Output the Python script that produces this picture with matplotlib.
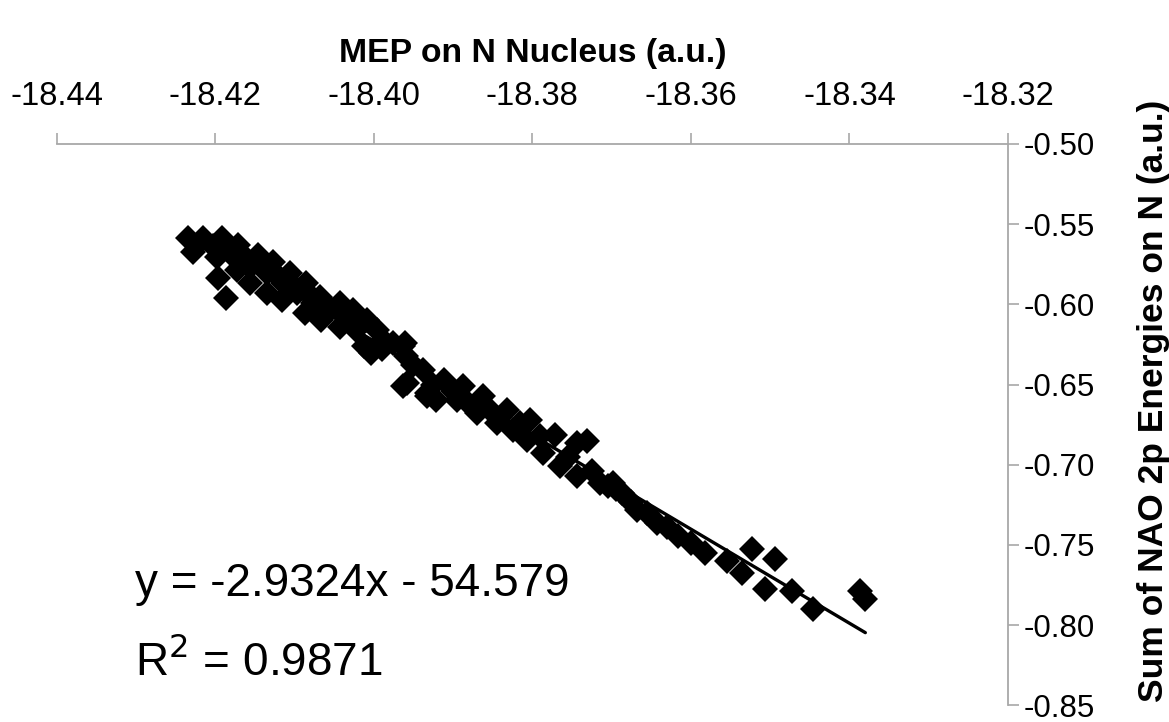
import numpy as np
import matplotlib
matplotlib.use("Agg")
import matplotlib.pyplot as plt

plt.rcParams['font.family'] = ['Liberation Sans', 'DejaVu Sans']

# MEP on N nucleus (a.u.) and sum of NAO 2p energies on N (a.u.)
mep = [
    -18.4234, -18.4215, -18.4192, -18.4171, -18.4146, -18.4127, -18.4106, -18.4085,
    -18.4068, -18.4043, -18.4026, -18.4009, -18.3996,
    -18.4228, -18.4198, -18.4173, -18.4156, -18.4135, -18.4116, -18.4087, -18.4066,
    -18.4043, -18.4013, -18.4003, -18.3963, -18.3959, -18.3963, -18.3933, -18.3912,
    -18.4196, -18.4186,
    -18.4203, -18.4181, -18.4156, -18.4135, -18.4115, -18.4097, -18.4077, -18.4055,
    -18.4030, -18.4022, -18.3988, -18.3976,
    -18.3961, -18.3958, -18.3938, -18.3933, -18.3887, -18.3862, -18.3870, -18.3832,
    -18.3803, -18.3807, -18.3772, -18.3744, -18.3731, -18.3786, -18.3765, -18.3744,
    -18.3715, -18.3694, -18.3845, -18.3824, -18.3895, -18.3921,
    -18.3698, -18.3687, -18.3668, -18.3656, -18.3643, -18.3616, -18.3582, -18.3555,
    -18.3536, -18.3523, -18.3494, -18.3506, -18.3473, -18.3446, -18.3387, -18.3380,
    -18.4220, -18.4160, -18.4140, -18.4120, -18.4100, -18.4080, -18.4060, -18.4040,
    -18.4020, -18.3990, -18.3950, -18.3925, -18.3900, -18.3880, -18.3855, -18.3815,
    -18.3790, -18.3755, -18.3725, -18.3705, -18.3675, -18.3630, -18.3600,
]
nao2p = [
    -0.5587, -0.5587, -0.5587, -0.5629, -0.5691, -0.5733, -0.5805, -0.5867,
    -0.5951, -0.5992, -0.6034, -0.6096, -0.6158,
    -0.5671, -0.5702, -0.5785, -0.5867, -0.5930, -0.5971, -0.6054, -0.6096,
    -0.6138, -0.6262, -0.6303, -0.6262, -0.6324, -0.6511, -0.6552, -0.6469,
    -0.5836, -0.5961,
    -0.5639, -0.5679, -0.5764, -0.5805, -0.5866, -0.5930, -0.5990, -0.6034,
    -0.6096, -0.6158, -0.6220, -0.6239,
    -0.6241, -0.6490, -0.6407, -0.6573, -0.6511, -0.6573, -0.6677, -0.6656,
    -0.6719, -0.6843, -0.6812, -0.6864, -0.6854, -0.6926, -0.7009, -0.7072,
    -0.7113, -0.7154, -0.6739, -0.6781, -0.6594, -0.6594,
    -0.7111, -0.7175, -0.7279, -0.7300, -0.7362, -0.7445, -0.7549, -0.7601,
    -0.7673, -0.7528, -0.7590, -0.7777, -0.7788, -0.7902, -0.7788, -0.7839,
    -0.5620, -0.5720, -0.5760, -0.5830, -0.5890, -0.5940, -0.6000, -0.6060,
    -0.6120, -0.6280, -0.6380, -0.6500, -0.6540, -0.6620, -0.6650, -0.6740,
    -0.6820, -0.6950, -0.7040, -0.7130, -0.7230, -0.7390, -0.7490,
]

# linear trendline as printed on the chart
slope = -2.9324
intercept = -54.579
r2 = 0.9871

x_ticks = [-18.44, -18.42, -18.40, -18.38, -18.36, -18.34, -18.32]
y_ticks = [-0.50, -0.55, -0.60, -0.65, -0.70, -0.75, -0.80, -0.85]

fig = plt.figure(figsize=(11.69, 7.22), dpi=100)
ax = fig.add_axes([0.0485, 0.0230, 0.8138, 0.7776])

mep = np.array(mep)
xs = np.array([mep.min(), mep.max()])
ax.plot(xs, slope * xs + intercept, color='black', lw=2.4, zorder=2,
        solid_capstyle='round')
ax.plot(mep, nao2p, 'D', color='black', markersize=13.5, markeredgewidth=0, zorder=3)

ax.set_xlim(-18.44, -18.32)
ax.set_ylim(-0.85, -0.50)

ax.xaxis.tick_top()
ax.xaxis.set_label_position('top')
ax.yaxis.tick_right()
ax.yaxis.set_label_position('right')
ax.set_xticks(x_ticks)
ax.set_xticklabels([f"{v:.2f}" for v in x_ticks])
ax.set_yticks(y_ticks)
ax.set_yticklabels([f"{v:.2f}" for v in y_ticks])

for side in ['left', 'bottom']:
    ax.spines[side].set_visible(False)
for side in ['top', 'right']:
    ax.spines[side].set_color('#a8a8a8')
    ax.spines[side].set_linewidth(1.3)

ax.tick_params(axis='x', direction='out', length=8, width=1.2, color='#a8a8a8',
               labelsize=23.5, pad=15)
ax.tick_params(axis='y', direction='out', length=8, width=1.2, color='#a8a8a8',
               labelsize=22.5, pad=3)

ax.set_xlabel('MEP on N Nucleus (a.u.)', fontsize=24.3, fontweight='bold', labelpad=14)
ax.set_ylabel('Sum of NAO 2p Energies on N (a.u.)', fontsize=25.5, fontweight='bold',
              rotation=90, va='center')
ax.yaxis.set_label_coords(1.1525, 0.543)

ax.text(0.082, 0.216, f"y = {slope:.4f}x - {abs(intercept):.3f}", transform=ax.transAxes,
        fontsize=33, va='center', ha='left')
ax.text(0.082, 0.078, f"R$^2$ = {r2:.4f}", transform=ax.transAxes,
        fontsize=33, va='center', ha='left')

fig.savefig('out.png', dpi=100)
